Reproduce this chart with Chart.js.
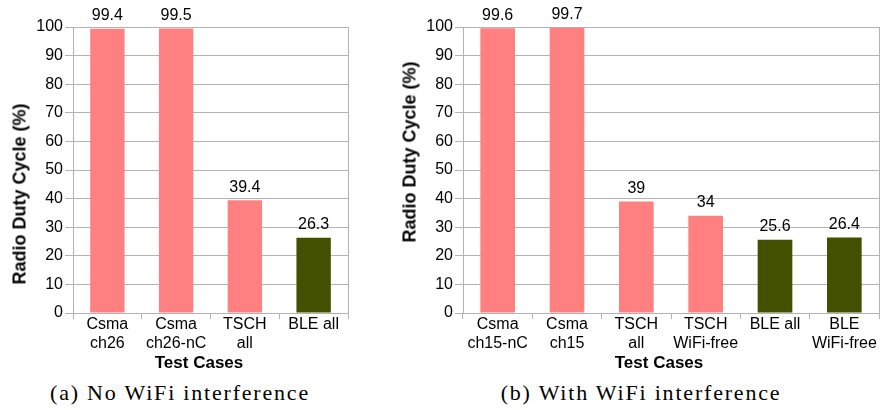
<!DOCTYPE html>
<html>
<head>
<meta charset="utf-8">
<script src="https://cdn.jsdelivr.net/npm/chart.js@4/dist/chart.umd.min.js"></script>
<style>
  body { margin: 0; background: #fff; width: 881px; height: 410px; position: relative; overflow: hidden; }
  .box { position: absolute; top: 0; height: 355px; }
  .ytitle, .xtitle, .caption { position: absolute; white-space: nowrap; color: #000; }
  .ytitle { font: bold 18px "Liberation Sans", Arial, sans-serif; transform: translate(-50%, -50%) rotate(-90deg); }
  .xtitle { font: bold 17px "Liberation Sans", Arial, sans-serif; transform: translate(-50%, -50%); }
  .caption { font: 22px "Liberation Serif", serif; letter-spacing: 1.8px; transform: translate(-50%, -50%); }
</style>
</head>
<body>
<div class="box" style="left:0;width:360px"><canvas id="chartNoWifi"></canvas></div>
<div class="box" style="left:390px;width:491px"><canvas id="chartWifi"></canvas></div>

<div class="ytitle" style="left:20px;top:194px">Radio Duty Cycle (%)</div>
<div class="ytitle" style="left:410px;top:152px">Radio Duty Cycle (%)</div>
<div class="xtitle" style="left:199px;top:363px">Test Cases</div>
<div class="xtitle" style="left:659px;top:363px">Test Cases</div>
<div class="caption" style="left:180px;top:393px">(a) No WiFi interference</div>
<div class="caption" style="left:641px;top:393px">(b) With WiFi interference</div>

<script>
// ---------------- DATA ----------------
const labelsNoWifi = [['Csma', 'ch26'], ['Csma', 'ch26-nC'], ['TSCH', 'all'], 'BLE all'];
const valuesNoWifi = [99.4, 99.5, 39.4, 26.3];
const isBleNoWifi = [false, false, false, true];

const labelsWifi = [['Csma', 'ch15-nC'], ['Csma', 'ch15'], ['TSCH', 'all'], ['TSCH', 'WiFi-free'], 'BLE all', ['BLE', 'WiFi-free']];
const valuesWifi = [99.6, 99.7, 39, 34, 25.6, 26.4];
const isBleWifi = [false, false, false, false, true, true];

const yMin = 0;
const yMax = 100;
const yStep = 10;

// ---------------- STYLE ----------------
const PINK = '#ff8080';
const GREEN = '#435000';
const GRID = '#b3b3b3';
const FONT = '"Liberation Sans", Arial, sans-serif';

// value labels above bars + right frame line
const valueLabels = {
  id: 'valueLabels',
  afterDatasetsDraw(chart) {
    const { ctx, chartArea } = chart;
    ctx.save();
    ctx.strokeStyle = GRID;
    ctx.lineWidth = 1;
    ctx.beginPath();
    ctx.moveTo(Math.round(chartArea.right) + 0.5, chartArea.top);
    ctx.lineTo(Math.round(chartArea.right) + 0.5, chartArea.bottom);
    ctx.stroke();

    ctx.fillStyle = '#000';
    ctx.font = `16px ${FONT}`;
    ctx.textAlign = 'center';
    ctx.textBaseline = 'bottom';
    const data = chart.data.datasets[0].data;
    chart.getDatasetMeta(0).data.forEach((bar, i) => {
      ctx.fillText(String(data[i]), bar.x, bar.y - 5);
    });
    ctx.restore();
  },
};

function makeChart(id, labels, values, isBle, padRight) {
  return new Chart(document.getElementById(id), {
    type: 'bar',
    data: {
      labels,
      datasets: [{
        data: values,
        backgroundColor: isBle.map((b) => (b ? GREEN : PINK)),
        barPercentage: 0.5,
        categoryPercentage: 1,
      }],
    },
    options: {
      responsive: true,
      maintainAspectRatio: false,
      animation: false,
      layout: { padding: { top: 27, right: padRight, bottom: 0, left: 0 } },
      plugins: { legend: { display: false }, tooltip: { enabled: false } },
      scales: {
        x: {
          grid: { display: true, drawOnChartArea: false, offset: true, tickLength: 6, color: GRID },
          border: { color: GRID },
          ticks: { color: '#000', font: { family: FONT, size: 16 }, padding: -4, maxRotation: 0, autoSkip: false },
          afterFit(scale) { scale.height = 42; },
        },
        y: {
          min: yMin,
          max: yMax,
          grid: { color: GRID, tickLength: 8 },
          border: { color: GRID },
          ticks: { stepSize: yStep, color: '#000', font: { family: FONT, size: 16 }, padding: 2 },
          afterFit(scale) { scale.width = 73; },
        },
      },
    },
    plugins: [valueLabels],
  });
}

makeChart('chartNoWifi', labelsNoWifi, valuesNoWifi, isBleNoWifi, 12);
makeChart('chartWifi', labelsWifi, valuesWifi, isBleWifi, 2);
</script>
</body>
</html>
